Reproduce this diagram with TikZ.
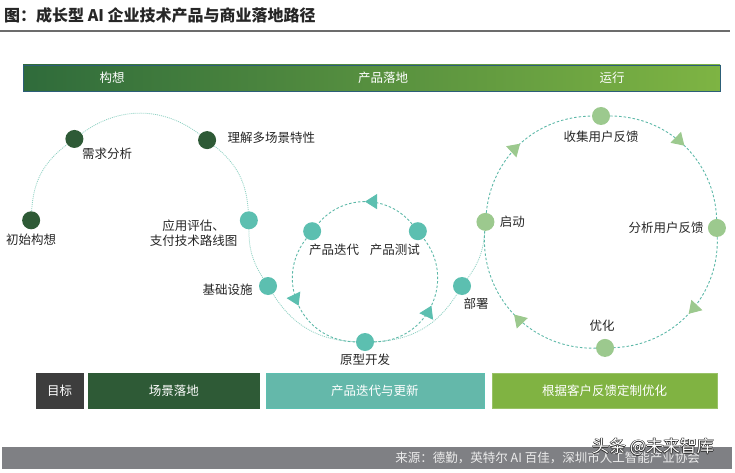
\documentclass[tikz,border=0pt]{standalone}
\usepackage{fontspec}
\setmainfont{Noto Sans CJK SC}
\usepackage{xcolor}
\usepackage{tikz}
\usetikzlibrary{arrows.meta,positioning,decorations.markings}
\definecolor{darkgreen}{HTML}{2E5A36}
\definecolor{tealc}{HTML}{5CBFB0}
\definecolor{lightgreen}{HTML}{9CC98E}
\definecolor{bargreen}{HTML}{2F6B3B}
\definecolor{barteal}{HTML}{66B9A7}
\definecolor{barlime}{HTML}{7EB443}
\definecolor{barborder}{HTML}{2C5E78}
\definecolor{goalgray}{HTML}{3D3D3D}
\definecolor{iterteal}{HTML}{64B8AA}
\definecolor{custgreen}{HTML}{80B342}
\definecolor{footgray}{HTML}{7F8084}
\definecolor{trackc}{HTML}{8FD1C3}
\definecolor{dashc}{HTML}{5DB8A8}
\definecolor{bk90}{HTML}{262626}
\newcommand{\wmark}[1]{%
  \makebox[0pt][l]{\hspace{-0.7pt}\textcolor{bk90}{#1}}%
  \makebox[0pt][l]{\hspace{0.7pt}\textcolor{bk90}{#1}}%
  \makebox[0pt][l]{\raisebox{0.7pt}{\textcolor{bk90}{#1}}}%
  \makebox[0pt][l]{\raisebox{-0.7pt}{\textcolor{bk90}{#1}}}%
  \textcolor{white}{#1}}
\tikzset{
  stagedot/.style={circle, fill=#1, draw=none, minimum size=18pt, inner sep=0pt},
  stagedot/.default=tealc,
  steplabel/.style={font=\fontsize{12.5}{15.5}\selectfont, text=bk90,
    inner sep=1pt, align=center},
  trackline/.style={draw=trackc, line width=0.8pt, dash pattern=on 1pt off 1pt},
  loopline/.style={draw=dashc, line width=0.9pt, dash pattern=on 2.5pt off 2pt,
    decoration={markings, mark=at position 0.5 with
      {\arrow[line width=0.9pt]{Triangle[length=12pt, width=15pt, color=#1]}}},
    postaction={decorate}},
  loopline/.default=tealc,
  phasebar/.style={rectangle, draw=barborder, line width=0.8pt,
    left color=bargreen, middle color=barteal, right color=barlime,
    minimum width=697pt, minimum height=26pt, inner sep=0pt},
  phaselabel/.style={font=\fontsize{12.5}{15}\selectfont, text=white, inner sep=0pt},
  goalbox/.style={rectangle, fill=#1, draw=#1, minimum height=35pt,
    font=\fontsize{12.5}{15}\selectfont, text=white, inner sep=0pt},
  goalbox/.default=goalgray,
}

\begin{document}
\begin{tikzpicture}[x=1pt, y=1pt]
\useasboundingbox (0,0) rectangle (735,472);

% ── Title ──
\node[anchor=west, inner sep=0pt, text=bk90, font=\fontsize{16}{19}\selectfont\bfseries]
  (title) at (4,457) {图：成长型 AI 企业技术产品与商业落地路径};
\draw[line width=1.2pt, color=gray!85!black] (0,441) -- (730,441);

% ── Phase bar ──
\node[phasebar] (bar) at (371.5,394) {};
\node[phaselabel] (ph1) at (112,394) {构想};
\node[phaselabel] (ph2) at (383,394) {产品落地};
\node[phaselabel] (ph3) at (612,394) {运行};

% Centres of the arcs
\coordinate (cL) at (140,246);
\coordinate (cM) at (365,198);
\coordinate (cR) at (601,240);

% ── Stage dots ──
\node[stagedot=darkgreen] (ini) at ([shift={(177:109)}]cL) {};
\node[stagedot=darkgreen] (req) at ([shift={(127:109)}]cL) {};
\node[stagedot=darkgreen] (und) at ([shift={(52:109)}]cL) {};
\node[stagedot] (app) at ([shift={(3:109)}]cL) {};
\node[stagedot] (infra) at (268,186) {};
\node[stagedot] (iter) at ([shift={(141:68)}]cM) {};
\node[stagedot] (test) at ([shift={(39:68)}]cM) {};
\node[stagedot] (proto) at ([shift={(270:68)}]cM) {};
\node[stagedot] (deploy) at (462,186) {};
\node[stagedot=lightgreen] (start) at ([shift={(175:116)}]cR) {};
\node[stagedot=lightgreen] (collect) at ([shift={(90:116)}]cR) {};
\node[stagedot=lightgreen] (anal) at ([shift={(2:116)}]cR) {};
\node[stagedot=lightgreen] (opt) at ([shift={(-88:116)}]cR) {};

% ── Growth track ──
\draw[trackline] (ini) to[bend left=25] (req);
\draw[trackline] (req) to[bend left=37] (und);
\draw[trackline] (und) to[bend left=24] (app);
\draw[trackline] (app) to[bend right=16] (infra);
\draw[trackline] (infra) to[bend right=28] (proto);
\draw[trackline] (proto) to[bend right=28] (deploy);
\draw[trackline] (deploy) to[bend right=16] (start);

% ── Product loop ──
\draw[loopline] (proto) to[bend right=64, looseness=1.19] (test);
\draw[loopline] (test) to[bend right=51, looseness=1.05] (iter);
\draw[loopline] (iter) to[bend right=64, looseness=1.19] (proto);

% ── Operation loop ──
\draw[loopline=lightgreen] (start) to[bend left=42] (collect);
\draw[loopline=lightgreen] (collect) to[bend left=44] (anal);
\draw[loopline=lightgreen] (anal) to[bend left=45] (opt);
\draw[loopline=lightgreen] (opt) to[bend left=48, looseness=1.03] (start);

% ── Stage labels ──
\node[steplabel, below=3pt of ini] (ini-l) {初始构想};
\node[steplabel, below right=1pt and 0pt of req] (req-l) {需求分析};
\node[steplabel, right=10pt of und, yshift=2pt] (und-l) {理解多场景特性};
\node[steplabel, left=1pt of app, yshift=-13pt] (app-l) {应用评估、\\支付技术路线图};
\node[steplabel, left=5pt of infra, yshift=-4pt] (infra-l) {基础设施};
\node[steplabel, below=2pt of iter, xshift=22pt] (iter-l) {产品迭代};
\node[steplabel, below=2pt of test, xshift=-23pt] (test-l) {产品测试};
\node[steplabel, below=2pt of proto] (proto-l) {原型开发};
\node[steplabel, below=2pt of deploy, xshift=14pt] (deploy-l) {部署};
\node[steplabel, right=4pt of start] (start-l) {启动};
\node[steplabel, below=5pt of collect] (collect-l) {收集用户反馈};
\node[steplabel, left=3pt of anal] (anal-l) {分析用户反馈};
\node[steplabel, above=6pt of opt, xshift=-3pt] (opt-l) {优化};

% ── Goal row ──
\node[goalbox, minimum width=47pt] (goal) at (59.5,81.5) {目标};
\node[goalbox=darkgreen, minimum width=171pt, right=5pt of goal] (g1) {场景落地};
\node[goalbox=iterteal, draw=tealc, minimum width=218pt, right=6pt of g1] (g2) {产品迭代与更新};
\node[goalbox=custgreen, draw=custgreen!80!white, minimum width=225pt, right=8pt of g2] (g3) {根据客户反馈定制优化};

% ── Footer ──
\node[rectangle, fill=footgray, minimum width=730pt, minimum height=22pt, inner sep=0pt]
  (foot) at (367,14) {};
\node[anchor=east, inner sep=0pt, text=white!92!black, font=\fontsize{12.5}{15}\selectfont]
  (src) at (700,14) {来源：德勤，英特尔 AI 百佳，深圳市人工智能产业协会};
\node[inner sep=0pt, font=\fontsize{17}{20}\selectfont] (wm) at (653,25) {\wmark{头条 @未来智库}};

\end{tikzpicture}
\end{document}
